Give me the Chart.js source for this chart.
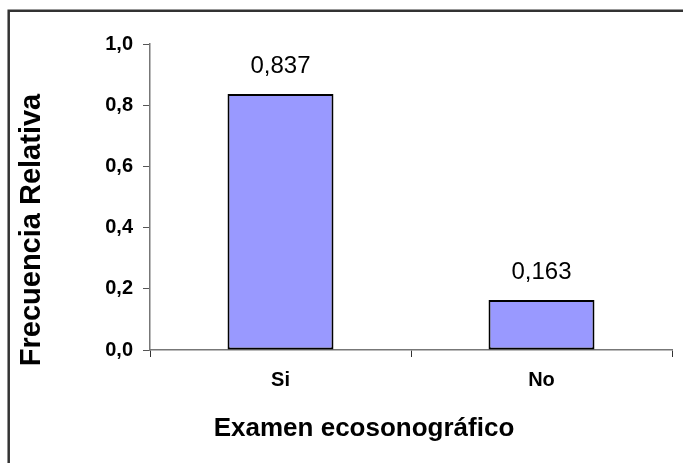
<!DOCTYPE html>
<html lang="es">
<head>
    <meta charset="UTF-8">
    <title>Examen ecosonográfico</title>
    <script src="https://cdn.jsdelivr.net/npm/chart.js"></script>
    <style>
        body { margin: 0; background: #fff; }
        canvas { display: block; }
    </style>
</head>
<body>
    <canvas id="freqChart" width="683" height="463"></canvas>

    <script>
        // data
        const categories = ['Si', 'No'];
        const values = [0.837, 0.163];
        const valueLabels = ['0,837', '0,163'];
        const yMin = 0;
        const yMax = 1;
        const yStep = 0.2;

        const xTitle = 'Examen ecosonográfico';
        const yTitle = 'Frecuencia Relativa';

        const fontFamily = "'Liberation Sans', Arial, sans-serif";

        // white background + frame on the top and left edges
        const framePlugin = {
            id: 'frame',
            beforeDraw(chart) {
                const ctx = chart.ctx;
                ctx.save();
                ctx.fillStyle = '#fff';
                ctx.fillRect(0, 0, chart.width, chart.height);
                ctx.strokeStyle = '#333';
                ctx.lineWidth = 2.5;
                ctx.beginPath();
                ctx.moveTo(8.7, chart.height);
                ctx.lineTo(8.7, 10.7);
                ctx.lineTo(chart.width, 10.7);
                ctx.stroke();
                ctx.restore();
            }
        };

        // axis titles sit off-centre in the original, so draw them here
        const axisTitlePlugin = {
            id: 'axisTitles',
            afterDraw(chart) {
                const ctx = chart.ctx;
                ctx.save();
                ctx.fillStyle = '#000';
                ctx.textAlign = 'center';
                ctx.textBaseline = 'middle';
                ctx.font = 'bold 26px ' + fontFamily;
                ctx.fillText(xTitle, 364, 429);
                ctx.translate(32, 230);
                ctx.rotate(-Math.PI / 2);
                ctx.font = 'bold 29px ' + fontFamily;
                ctx.fillText(yTitle, 0, 0);
                ctx.restore();
            }
        };

        // value labels above the bars
        const valueLabelPlugin = {
            id: 'valueLabels',
            afterDatasetsDraw(chart) {
                const ctx = chart.ctx;
                const meta = chart.getDatasetMeta(0);
                ctx.save();
                ctx.font = '24px ' + fontFamily;
                ctx.fillStyle = '#000';
                ctx.textAlign = 'center';
                ctx.textBaseline = 'middle';
                meta.data.forEach((bar, i) => {
                    ctx.fillText(valueLabels[i], bar.x, bar.y - 28);
                });
                ctx.restore();
            }
        };

        new Chart(document.getElementById('freqChart'), {
            type: 'bar',
            data: {
                labels: categories,
                datasets: [{
                    data: values,
                    backgroundColor: '#9999FF',
                    borderColor: '#000',
                    borderWidth: 2,
                    borderSkipped: false,
                    categoryPercentage: 1.0,
                    barPercentage: 0.406
                }]
            },
            options: {
                responsive: false,
                animation: false,
                layout: {
                    padding: { left: 0, top: 44, right: 11, bottom: 0 }
                },
                plugins: {
                    legend: { display: false },
                    tooltip: { enabled: false }
                },
                scales: {
                    x: {
                        afterFit(scale) { scale.height = 113; },
                        grid: {
                            offset: true,
                            drawOnChartArea: false,
                            tickLength: 7,
                            color: '#333'
                        },
                        border: { color: '#777', width: 1.5 },
                        ticks: {
                            padding: 11,
                            color: '#000',
                            font: { family: fontFamily, size: 20, weight: 'bold' }
                        }
                    },
                    y: {
                        min: yMin,
                        max: yMax,
                        afterFit(scale) { scale.width = 150; },
                        grid: {
                            drawOnChartArea: false,
                            tickLength: 7,
                            color: '#555'
                        },
                        border: { color: '#777', width: 1.5 },
                        ticks: {
                            stepSize: yStep,
                            padding: 10,
                            color: '#000',
                            font: { family: fontFamily, size: 20, weight: 'bold' },
                            callback: (v) => v.toFixed(1).replace('.', ',')
                        }
                    }
                }
            },
            plugins: [framePlugin, axisTitlePlugin, valueLabelPlugin]
        });
    </script>
</body>
</html>
